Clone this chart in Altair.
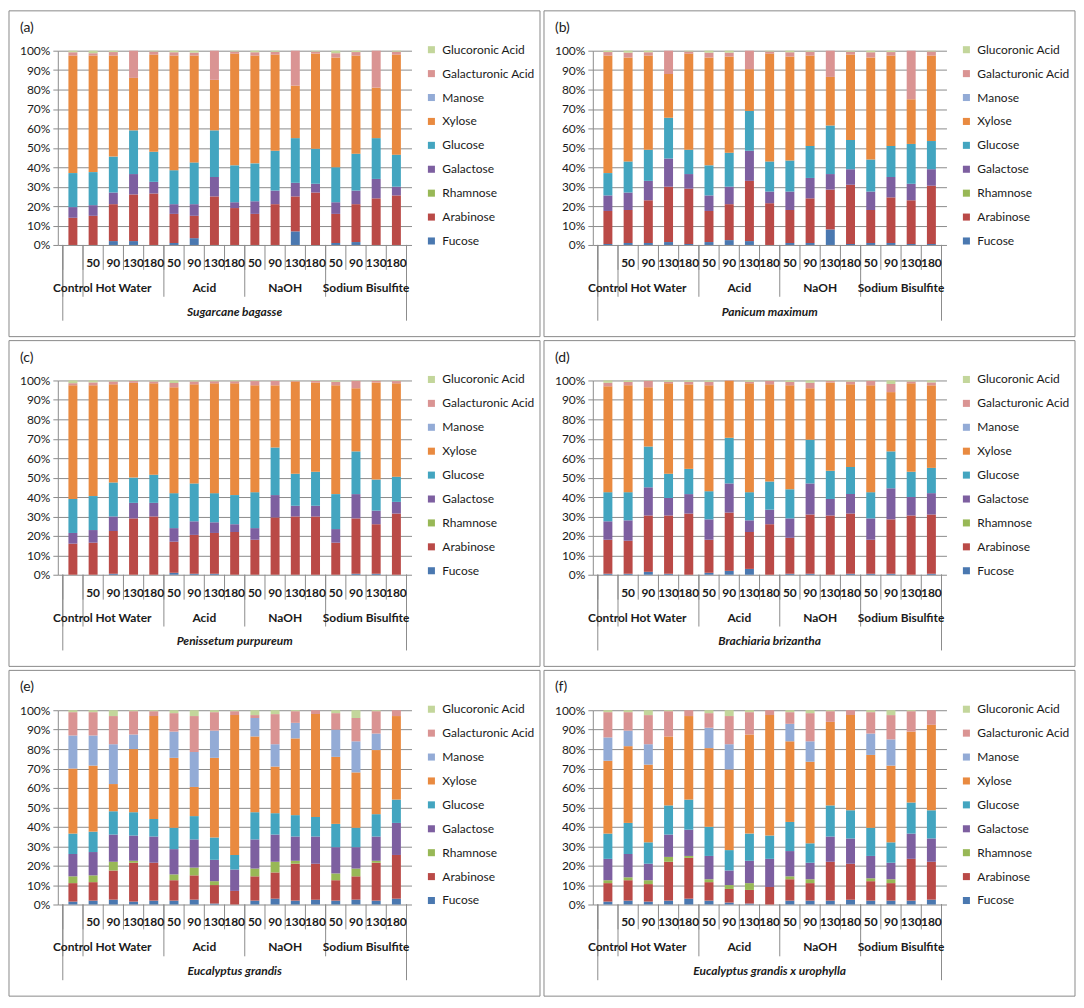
import altair as alt
import pandas as pd

# ---------------- data ----------------
sugars = ["Fucose", "Arabinose", "Rhamnose", "Galactose", "Glucose",
          "Xylose", "Manose", "Galacturonic Acid", "Glucoronic Acid"]
colors = ["#4A78B0", "#BA4A47", "#98B856", "#7D5FA0", "#43A5C0",
          "#E98A40", "#93ABD6", "#DA9493", "#C3D69B"]

temps = ["", "50", "90", "130", "180", "50", "90", "130", "180",
         "50", "90", "130", "180", "50", "90", "130", "180"]
treatments = ["Control"] + ["Hot Water"] * 4 + ["Acid"] * 4 + ["NaOH"] * 4 + ["Sodium Bisulfite"] * 4

# cumulative tops (%) per bar: Fucose, Arabinose, Rhamnose, Galactose, Glucose, Xylose, Manose, Galacturonic (Glucoronic -> 100)
sugarcane = [
    [0, 14, 14, 19.5, 37, 97.5, 97.5, 99.2], [0, 15, 15, 20.5, 37.5, 97.5, 97.5, 98.7],
    [2, 21, 21, 27, 45.5, 97.5, 97.5, 99.3], [2, 26, 26, 36.5, 59, 86, 86, 100],
    [0, 26.5, 26.5, 32.5, 48, 98, 98, 99.6], [1, 16, 16, 21, 38.5, 97.5, 97.5, 99.2],
    [3.5, 15, 15, 21, 42.5, 97.5, 97.5, 99], [0, 25, 25, 35, 59, 85, 85, 100],
    [0, 19, 19, 22, 41, 98.5, 98.5, 99.6], [0, 16, 16, 22.5, 42, 97.5, 97.5, 99.2],
    [0, 21, 21, 28, 48.5, 98, 98, 99.4], [7, 25, 25, 32, 55, 82, 82, 100],
    [0, 27, 27, 31.5, 49.5, 98.5, 98.5, 99.6], [1, 16, 16, 22, 40, 96.5, 96.5, 98.7],
    [1.5, 21, 21, 28, 47, 97.5, 97.5, 99.3], [0, 24, 24, 34, 55, 81, 81, 100],
    [0, 25.5, 25.5, 30, 46.5, 98, 98, 99.5],
]
panicum = [
    [0.5, 17.5, 17.5, 25.5, 37, 97.5, 97.5, 99.3], [1, 18, 18, 27, 43, 96.5, 96.5, 99],
    [1, 23, 23, 33, 49, 97.5, 97.5, 99.2], [1.5, 30, 30, 44.5, 65.5, 88, 88, 100],
    [0.5, 29, 29, 36.5, 49, 98.5, 98.5, 99.6], [1.5, 17.5, 17.5, 25.5, 41, 96.5, 96.5, 99],
    [2.5, 21, 21, 30, 47.5, 97, 97, 99], [2, 33, 33, 48.5, 69, 90.5, 90.5, 100],
    [0, 21.5, 21.5, 27.5, 43, 98.5, 98.5, 99.6], [1, 18, 18, 27.5, 43.5, 97, 97, 99.2],
    [1, 24, 24, 34.5, 51, 97.5, 97.5, 99.5], [8, 28.5, 28.5, 36.5, 61.5, 86.5, 86.5, 100],
    [0.5, 31, 31, 39, 54, 98, 98, 99.5], [1, 18, 18, 27.5, 44, 96.5, 96.5, 99.2],
    [1, 24.5, 24.5, 35, 51, 97.5, 97.5, 99.3], [0.5, 23, 23, 31.5, 52, 75, 75, 100],
    [0.5, 30.5, 30.5, 39, 53.5, 97.5, 97.5, 99.6],
]
penissetum = [
    [0, 16, 16, 21.5, 39, 97.5, 97.5, 98.6], [0, 16.5, 16.5, 23, 40.5, 97.5, 97.5, 99],
    [0.5, 22.5, 22.5, 30, 47.5, 98, 98, 99.5], [0, 29, 29, 37, 50, 98.8, 98.8, 99.7],
    [0, 30, 30, 37, 51.5, 98.5, 98.5, 99.5], [1, 17, 17, 24, 42, 96.5, 96.5, 98.7],
    [0.5, 20.5, 20.5, 27.5, 47, 98, 98, 99.5], [0.5, 21.5, 21.5, 27, 42, 98.5, 98.5, 99.6],
    [0, 22, 22, 26, 41, 98.5, 98.5, 99.6], [0, 18, 18, 24, 42.5, 97.5, 97.5, 99.7],
    [0, 29.5, 29.5, 41, 65.5, 97.5, 97.5, 99.8], [0, 30, 30, 35.5, 52, 99.5, 99.5, 99.8],
    [0, 30, 30, 35.5, 53, 99, 99, 99.7], [0, 16.5, 16.5, 23.5, 41.5, 97.5, 97.5, 99.3],
    [0.5, 29, 29, 41.5, 63.5, 96, 96, 99.8], [0.5, 26, 26, 33, 49, 99, 99, 99.8],
    [0, 31.5, 31.5, 37.5, 50.5, 98.5, 98.5, 99.7],
]
brachiaria = [
    [0.5, 18, 18, 27.5, 42.5, 97, 97, 98.8], [0.5, 17.5, 17.5, 28, 42.5, 97.5, 97.5, 99.2],
    [1.5, 30.5, 30.5, 45, 66, 96.5, 96.5, 99.8], [0.5, 30.5, 30.5, 39.5, 52, 98.5, 98.5, 99.3],
    [0, 31.5, 31.5, 41.5, 54.5, 98, 98, 99.3], [1, 18, 18, 28.5, 43, 97.5, 97.5, 99.3],
    [2, 32, 32, 47, 70.5, 99.8, 99.8, 100], [3, 22, 22, 28, 42.5, 98.5, 98.5, 99.3],
    [0, 26, 26, 33.5, 48, 98, 98, 99.8], [0.5, 19, 19, 29, 44, 97.5, 97.5, 99.2],
    [0.5, 31, 31, 47, 69.5, 96, 96, 98.8], [0, 30.5, 30.5, 39, 53.5, 99, 99, 99.7],
    [0.5, 31.5, 31.5, 41.5, 55.5, 98, 98, 99.5], [0.5, 18, 18, 29, 42.5, 97.5, 97.5, 99.8],
    [0.5, 28.5, 28.5, 44.5, 63.5, 94, 94, 98.2], [0, 30.5, 30.5, 40, 53, 98.5, 98.5, 99.5],
    [0.5, 31, 31, 42, 55, 97.5, 97.5, 99],
]
eucalyptus = [
    [1.5, 11, 14.5, 26, 36.5, 70, 87, 99], [2, 11.5, 15, 27, 37.5, 71.5, 87, 99],
    [2.5, 17.5, 22, 36, 48, 62, 82.5, 97], [1.5, 21.5, 22.5, 35.5, 47.5, 80, 87.5, 99.5],
    [2, 21.5, 21.5, 35, 44, 97, 97, 99.5], [2, 12.5, 15.5, 28.5, 39.5, 75.5, 89, 98.5],
    [2.5, 15, 19, 33.5, 45.5, 60.5, 78.5, 97], [0.5, 10, 12, 23, 34.5, 75.5, 89.5, 99],
    [0, 7, 7, 18, 25.5, 97.5, 97.5, 99.5], [2, 14.5, 18.5, 33.5, 47.5, 86.5, 96, 97.5],
    [3, 16.5, 22, 36, 47, 71, 82.5, 98], [2, 21, 22.5, 35, 46, 85.5, 93.5, 99.5],
    [2.5, 21, 21, 35, 45, 98, 98, 100], [2, 12.5, 16, 29.5, 41.5, 76, 90, 98.5],
    [2.5, 14.5, 18.5, 29.5, 39.5, 68, 84, 96], [2, 21.5, 22.5, 35, 46.5, 79.5, 88, 99.5],
    [3, 25.5, 25.5, 42, 54, 97, 97, 100],
]
eucalyptus_uro = [
    [1.5, 11, 12.5, 23.5, 36.5, 74, 86, 99], [2, 12.5, 14, 26, 42, 81.5, 89.5, 99],
    [1.5, 10.5, 12.5, 21, 32, 72, 82.5, 97.5], [2, 22, 24.5, 36, 51, 86.5, 86.5, 99.5],
    [3, 24, 25, 38.5, 54, 97, 97, 100], [2, 11.5, 13, 25, 40, 80.5, 91, 98.5],
    [1, 8, 10, 17.5, 28, 69.5, 82.5, 97], [0.5, 7.5, 11, 22.5, 36.5, 87.5, 87.5, 99],
    [0, 9, 9, 23.5, 35.5, 97.5, 97.5, 100], [2, 13, 14.5, 27.5, 42.5, 84, 93, 99],
    [2, 11, 13, 21.5, 31.5, 73.5, 84, 98.5], [2, 22, 22, 35, 51, 94, 94, 99.5],
    [2.5, 21, 21, 34, 48.5, 97.5, 97.5, 100], [2, 12, 13.5, 25, 39.5, 77, 88, 99],
    [2, 11, 13, 21.5, 32, 71.5, 85, 97.5], [2, 23.5, 23.5, 36.5, 52.5, 89, 89, 99.5],
    [2.5, 22, 22, 34, 48.5, 92.5, 92.5, 100],
]

panels = [
    ("(a)", "Sugarcane bagasse", sugarcane),
    ("(b)", "Panicum maximum", panicum),
    ("(c)", "Penissetum purpureum", penissetum),
    ("(d)", "Brachiaria brizantha", brachiaria),
    ("(e)", "Eucalyptus grandis", eucalyptus),
    ("(f)", "Eucalyptus grandis x urophylla", eucalyptus_uro),
]

# ---------------- layout constants ----------------
W, H = 355, 195
LEFT, RIGHT, TOP, BOTTOM = 49, 129, 40, 92
GRAY = "#8c8c8c"
FONT = "Lato"
TXT = "#1a1a1a"
FS = 12

legend_order = sugars[::-1]
legend_colors = colors[::-1]
n = len(temps)
xscale = alt.Scale(domain=[-0.5, n - 0.5], nice=False, zero=False)

cat_df = pd.DataFrame({"i": list(range(n)), "temp": temps, "treat": treatments})
grp_df = cat_df.groupby("treat", sort=False)["i"].agg(["min", "max"]).reset_index()
grp_df["c"] = (grp_df["min"] + grp_df["max"]) / 2
all_bounds = pd.DataFrame({"b": [k - 0.5 for k in range(n + 1)]})
grp_bounds = pd.DataFrame({"b": sorted(set([-0.5] + [m + 0.5 for m in grp_df["max"]]))})
edge_bounds = pd.DataFrame({"b": [-0.5, n - 0.5]})


def make_panel(tag, species, tops):
    rows = []
    for i, t in enumerate(tops):
        full = list(t) + [100]
        lo = 0
        for j, s in enumerate(sugars):
            hi = full[j]
            if hi > lo:
                rows.append({"i": i, "sugar": s, "lo": lo, "hi": hi, "ord": j})
            lo = max(lo, hi)
    df = pd.DataFrame(rows)

    frame = alt.Chart(pd.DataFrame({"k": [0]})).mark_rect(
        fill="transparent", stroke="#8a8a8a", strokeWidth=1
    ).encode(
        x=alt.value(-LEFT), x2=alt.value(W + RIGHT),
        y=alt.value(-TOP), y2=alt.value(H + BOTTOM),
    )

    bars = alt.Chart(df).mark_bar(size=9).encode(
        x=alt.X("i:Q", scale=xscale, axis=None),
        y=alt.Y("lo:Q", scale=alt.Scale(domain=[0, 100], nice=False),
                axis=alt.Axis(values=list(range(0, 101, 10)),
                              labelExpr="datum.value + '%'", title=None,
                              grid=True, gridColor=GRAY, gridWidth=1,
                              domainColor=GRAY, tickColor=GRAY, tickSize=5,
                              labelPadding=3, labelFont=FONT, labelFontSize=FS,
                              labelColor=TXT)),
        y2="hi:Q",
        color=alt.Color("sugar:N",
                        scale=alt.Scale(domain=legend_order, range=legend_colors),
                        legend=alt.Legend(title=None, orient="none",
                                          legendX=W + 14, legendY=-7,
                                          symbolType="square", symbolSize=50,
                                          symbolStrokeWidth=0,
                                          labelFont=FONT, labelFontSize=FS,
                                          labelColor=TXT, rowPadding=12,
                                          labelOffset=5, padding=0)),
        order=alt.Order("ord:Q"),
    )

    r_short = alt.Chart(all_bounds).mark_rule(color=GRAY, strokeWidth=1).encode(
        x=alt.X("b:Q", scale=xscale, axis=None), y=alt.value(H), y2=alt.value(H + 25))
    r_mid = alt.Chart(grp_bounds).mark_rule(color=GRAY, strokeWidth=1).encode(
        x=alt.X("b:Q", scale=xscale, axis=None), y=alt.value(H), y2=alt.value(H + 52))
    r_long = alt.Chart(edge_bounds).mark_rule(color=GRAY, strokeWidth=1).encode(
        x=alt.X("b:Q", scale=xscale, axis=None), y=alt.value(H), y2=alt.value(H + 76))

    t_temp = alt.Chart(cat_df).mark_text(font=FONT, fontSize=FS, fontWeight="bold",
                                         color=TXT, baseline="middle").encode(
        x=alt.X("i:Q", scale=xscale, axis=None), y=alt.value(H + 18), text="temp:N")
    t_grp = alt.Chart(grp_df).mark_text(font=FONT, fontSize=FS, fontWeight="bold",
                                        color=TXT, baseline="middle").encode(
        x=alt.X("c:Q", scale=xscale, axis=None), y=alt.value(H + 43), text="treat:N")
    t_sp = alt.Chart(pd.DataFrame({"c": [(n - 1) / 2], "s": [species]})).mark_text(
        font=FONT, fontSize=FS, fontWeight="bold", fontStyle="italic",
        color=TXT, baseline="middle").encode(
        x=alt.X("c:Q", scale=xscale, axis=None), y=alt.value(H + 67), text="s:N")
    t_tag = alt.Chart(pd.DataFrame({"s": [tag]})).mark_text(
        font=FONT, fontSize=14, color=TXT, align="left", baseline="middle").encode(
        x=alt.value(-LEFT + 11), y=alt.value(-TOP + 17), text="s:N")

    return alt.layer(frame, bars, r_short, r_mid, r_long, t_temp, t_grp, t_sp, t_tag).properties(
        width=W, height=H)


charts = [make_panel(*p) for p in panels]
rows_ = [
    alt.hconcat(charts[k], charts[k + 1], spacing=2)
    .resolve_scale(color="independent").resolve_legend(color="independent")
    for k in (0, 2, 4)
]
chart = (
    alt.vconcat(*rows_, spacing=2)
    .resolve_scale(color="independent").resolve_legend(color="independent")
    .properties(padding=0)
    .configure_view(stroke=None)
)

chart.save("out.html", embed_options={"renderer": "svg", "actions": False})
